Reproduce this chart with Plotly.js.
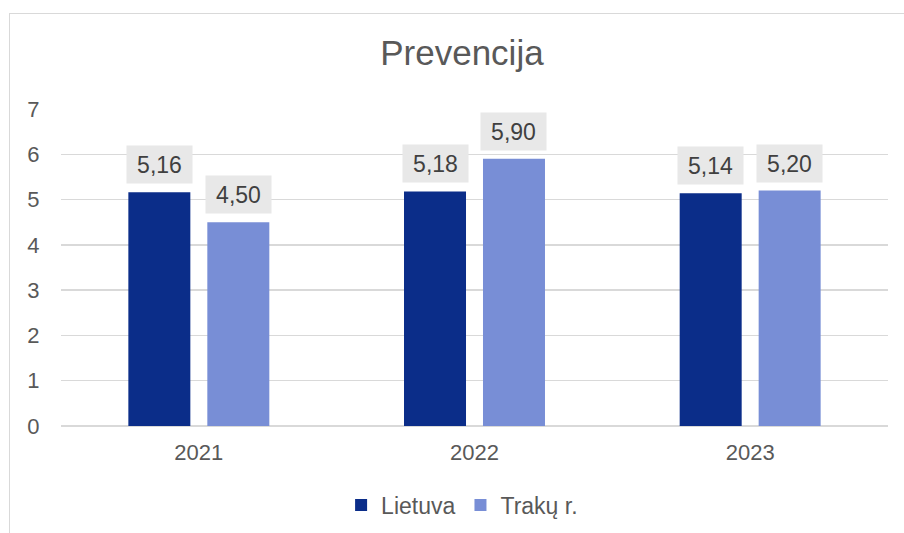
<!DOCTYPE html>
<html>
<head>
<meta charset="utf-8">
<script src="https://cdn.plot.ly/plotly-3.0.1.min.js"></script>
<style>
  body { margin: 0; background: #fff; }
  #frame { position: absolute; left: 9px; top: 13px; width: 1000px; height: 1000px;
           border: 1px solid #d9d9d9; pointer-events: none; }
  #plot { position: absolute; left: 0; top: 0; width: 904px; height: 533px; }
</style>
</head>
<body>
<div id="plot"></div>
<div id="frame"></div>
<script>
// Prevencija — Lietuva vs Trakų r.
const years = ['2021', '2022', '2023'];
const lietuva = [5.16, 5.18, 5.14];
const traku = [4.50, 5.90, 5.20];
const seriesNames = ['Lietuva', 'Trakų r.'];
const colors = ['#0b2d89', '#788ed6'];

const W = 904, H = 533;
const margin = { l: 61, r: 16, t: 109, b: 107, autoexpand: false };
const bargap = 0.427, bargroupgap = 0.215;

const fmt = v => v.toFixed(2).replace('.', ',');

const data = [lietuva, traku].map((vals, i) => ({
    type: 'bar',
    x: years,
    y: vals,
    name: seriesNames[i],
    marker: { color: colors[i] },
    hoverinfo: 'skip',
}));

// slot offset of each bar within its group, in px
const catW = (W - margin.l - margin.r) / years.length;
const slot = catW * (1 - bargap) / 2;

const annotations = [];
[lietuva, traku].forEach((vals, i) => {
    vals.forEach((v, j) => {
        annotations.push({
            x: j, y: v, xref: 'x', yref: 'y',
            xshift: (i === 0 ? -1 : 1) * slot / 2,
            yshift: 8,
            yanchor: 'bottom',
            text: fmt(v),
            showarrow: false,
            bgcolor: '#e8e8e8',
            width: 63, height: 35,
            font: { size: 23, color: '#404040' },
        });
    });
});

const layout = {
    width: W, height: H,
    margin,
    paper_bgcolor: 'rgba(0,0,0,0)',
    plot_bgcolor: 'rgba(0,0,0,0)',
    font: { family: 'Liberation Sans, Arial, sans-serif', color: '#595959', size: 22 },
    title: {
        text: 'Prevencija',
        font: { size: 35, color: '#595959' },
        x: 0.511, xanchor: 'center',
        y: 1 - 53 / H, yanchor: 'middle', yref: 'container',
    },
    barmode: 'group',
    bargap, bargroupgap,
    xaxis: {
        type: 'category',
        range: [-0.5, years.length - 0.5],
        showgrid: false,
        showline: false,
        ticks: 'outside', ticklen: 7, tickcolor: 'rgba(0,0,0,0)',
        tickfont: { size: 22, color: '#595959' },
        fixedrange: true,
    },
    yaxis: {
        range: [0, 7],
        dtick: 1,
        gridcolor: '#d9d9d9', gridwidth: 1.5,
        zeroline: true, zerolinecolor: '#d9d9d9', zerolinewidth: 1.5,
        ticks: 'outside', ticklen: 16, tickcolor: 'rgba(0,0,0,0)',
        tickfont: { size: 22, color: '#595959' },
        fixedrange: true,
    },
    legend: {
        orientation: 'h',
        x: 0.485, xanchor: 'center',
        y: -(505 - (H - margin.b)) / (H - margin.t - margin.b), yanchor: 'middle',
        font: { size: 23, color: '#595959' },
        itemwidth: 30,
    },
    annotations,
    showlegend: true,
};

Plotly.newPlot('plot', data, layout, { displayModeBar: false, staticPlot: true });
</script>
</body>
</html>
